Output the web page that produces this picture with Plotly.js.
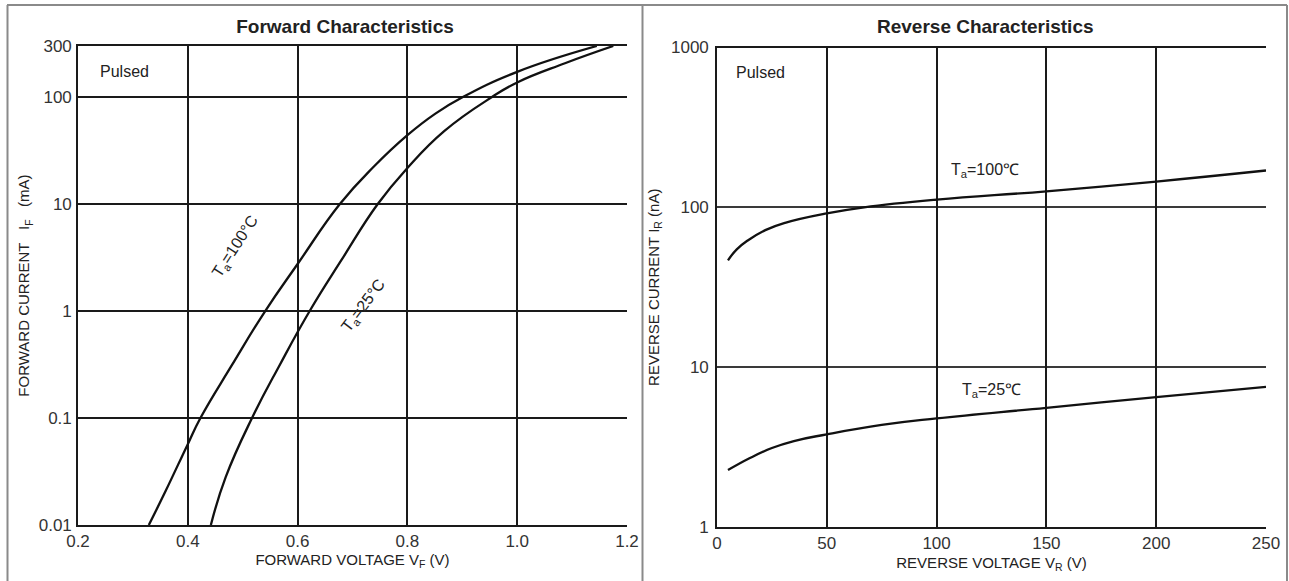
<!DOCTYPE html>
<html>
<head>
<meta charset="utf-8">
<script src="https://cdn.plot.ly/plotly-3.0.1.min.js"></script>
<style>html,body{margin:0;padding:0;background:#fff;}#chart{width:1289px;height:581px;}</style>
</head>
<body>
<div id="chart"></div>
<script>
// ---- Forward characteristics (V in volts, I in mA) ----
const fwdV25  = [0.442, 0.469, 0.517, 0.567, 0.622, 0.680, 0.746, 0.800, 0.867, 0.954, 1.000, 1.087, 1.175];
const fwdI25  = [0.01,  0.028, 0.1,   0.31,  1.0,   3.0,   10,    21.7,  48,    100,   137,   207,   300];
const fwdV100 = [0.329, 0.360, 0.400, 0.423, 0.480, 0.541, 0.600, 0.677, 0.739, 0.800, 0.851, 0.901, 1.000, 1.145];
const fwdI100 = [0.01,  0.021, 0.057, 0.1,   0.31,  1.0,   2.75,  10,    22.4,  44,    70,    100,   172,   300];

// ---- Reverse characteristics (V in volts, I in nA) ----
const revV100 = [5,    9,    14,  22,  31,  50,   67,  100,   150, 200, 250];
const revI100 = [46.6, 54.6, 62,  72,  80,  91.7, 100, 111.7, 126, 145, 170];
const revV25  = [5,    15,  25,   35,   50,  75,   100,  150,  200, 250];
const revI25  = [2.27, 2.7, 3.12, 3.45, 3.8, 4.35, 4.78, 5.57, 6.5, 7.53];

// ---- Tick labels ----
const fwdXTicks = [0.2, 0.4, 0.6, 0.8, 1.0, 1.2];
const fwdXText  = ['0.2', '0.4', '0.6', '0.8', '1.0', '1.2'];
const fwdXGrid  = [0.4, 0.6, 0.8, 1.0];
const fwdYTicks = [0.01, 0.1, 1, 10, 100, 300];
const fwdYText  = ['0.01', '0.1', '1', '10', '100', '300'];
const revXTicks = [0, 50, 100, 150, 200, 250];
const revXText  = ['0', '50', '100', '150', '200', '250'];
const revXGrid  = [50, 100, 150, 200];
const revYTicks = [1, 10, 100, 1000];
const revYText  = ['1', '10', '100', '1000'];

const W = 1289, H = 581;
const px = v => v / W;
const py = v => 1 - v / H;
const FONT = 'Liberation Sans, Arial, sans-serif';
const DARK = '#1a1a1a';
const curve = {color: '#111', width: 2.3, shape: 'spline', smoothing: 1.3};

const traces = [
  {x: fwdV100, y: fwdI100, xaxis: 'x', yaxis: 'y', mode: 'lines', line: curve, name: 'Ta=100°C'},
  {x: fwdV25,  y: fwdI25,  xaxis: 'x', yaxis: 'y', mode: 'lines', line: curve, name: 'Ta=25°C'},
  {x: revV100, y: revI100, xaxis: 'x2', yaxis: 'y2', mode: 'lines', line: curve, name: 'Ta=100℃'},
  {x: revV25,  y: revI25,  xaxis: 'x2', yaxis: 'y2', mode: 'lines', line: curve, name: 'Ta=25℃'},
  {x: [], y: [], xaxis: 'x3', yaxis: 'y', mode: 'lines', hoverinfo: 'skip', showlegend: false},
  {x: [], y: [], xaxis: 'x4', yaxis: 'y2', mode: 'lines', hoverinfo: 'skip', showlegend: false}
];

const tickFont = {family: FONT, size: 17, color: '#333'};
const titleFont = {family: FONT, size: 15, color: '#222'};
const baseX = {tickmode: 'array', showgrid: false, showline: true, linecolor: DARK, linewidth: 1.6,
  ticks: '', zeroline: false, tickfont: tickFont, fixedrange: true, ticklabelstandoff: 0, automargin: false};
const gridX = {tickmode: 'array', showgrid: true, gridcolor: DARK, gridwidth: 1.6,
  showline: true, linecolor: DARK, linewidth: 1.6, side: 'top',
  showticklabels: false, ticks: '', zeroline: false, fixedrange: true};
const baseY = {type: 'log', tickmode: 'array', showgrid: true, gridcolor: DARK, gridwidth: 1.6,
  showline: true, linecolor: DARK, linewidth: 1.6, ticks: '', zeroline: false, tickfont: tickFont,
  fixedrange: true, automargin: false};

function ann(text, x, y, size, opts) {
  return Object.assign({text: text, xref: 'paper', yref: 'paper', x: px(x), y: py(y),
    xanchor: 'center', yanchor: 'middle', showarrow: false,
    font: {family: FONT, size: size, color: '#222'}}, opts || {});
}

const annotations = [
  ann('<b>Reverse Characteristics</b>', 985, 27, 19),
  ann('Pulsed', 124, 71, 16),
  ann('Pulsed', 760, 73, 16),
  ann('T<sub>a</sub>=100°C', 236, 247, 16, {textangle: -57}),
  ann('T<sub>a</sub>=25°C', 363, 306, 16, {textangle: -53}),
  ann('T<sub>a</sub>=100℃', 985, 170, 16),
  ann('T<sub>a</sub>=25℃', 991, 390, 16)
];

const frame = {color: '#8a8a8a', width: 2};
const shapes = [
  {type: 'line', xref: 'paper', yref: 'paper', x0: px(7), x1: px(1287), y0: py(5), y1: py(5), line: frame},
  {type: 'line', xref: 'paper', yref: 'paper', x0: px(7.5), x1: px(7.5), y0: py(5), y1: 0, line: frame},
  {type: 'line', xref: 'paper', yref: 'paper', x0: px(642.5), x1: px(642.5), y0: py(5), y1: 0, line: frame},
  {type: 'line', xref: 'paper', yref: 'paper', x0: px(1287), x1: px(1287), y0: py(5), y1: 0, line: frame}
];

const layout = {
  width: W, height: H,
  margin: {l: 0, r: 0, t: 0, b: 0},
  font: {family: FONT, size: 15, color: '#222'},
  paper_bgcolor: '#fff', plot_bgcolor: '#fff',
  showlegend: false,
  hovermode: false,
  title: {text: '<b>Forward Characteristics</b>', font: {family: FONT, size: 19, color: '#222'},
    xref: 'paper', yref: 'paper', x: px(345), y: py(26), xanchor: 'center', yanchor: 'middle'},
  xaxis: Object.assign({}, baseX, {domain: [px(78), px(627)], anchor: 'y', range: [0.2, 1.2],
    tickvals: fwdXTicks, ticktext: fwdXText,
    title: {text: 'FORWARD VOLTAGE V<sub>F</sub> (V)', font: titleFont, standoff: 3}}),
  xaxis3: Object.assign({}, gridX, {overlaying: 'x', anchor: 'y', range: [0.2, 1.2], tickvals: fwdXGrid}),
  yaxis: Object.assign({}, baseY, {domain: [py(525), py(46)], anchor: 'x', range: [-2, Math.log10(300)],
    tickvals: fwdYTicks, ticktext: fwdYText, ticklabelstandoff: 1,
    title: {text: 'FORWARD CURRENT\u00a0\u00a0 I<sub>F</sub>\u00a0\u00a0 (mA)', font: titleFont, standoff: 5}}),
  xaxis2: Object.assign({}, baseX, {domain: [px(717), px(1266)], anchor: 'y2', range: [0, 250],
    tickvals: revXTicks, ticktext: revXText,
    title: {text: 'REVERSE VOLTAGE V<sub>R</sub> (V)', font: titleFont, standoff: 5}}),
  xaxis4: Object.assign({}, gridX, {overlaying: 'x2', anchor: 'y2', range: [0, 250], tickvals: revXGrid}),
  yaxis2: Object.assign({}, baseY, {domain: [py(527), py(47.5)], anchor: 'x2', range: [0, 3],
    tickvals: revYTicks, ticktext: revYText, gridcolor: '#3a3a3a', gridwidth: 1.8, ticklabelstandoff: 3,
    title: {text: 'REVERSE CURRENT I<sub>R</sub> (nA)', font: titleFont, standoff: 8}}),
  annotations: annotations,
  shapes: shapes
};

Plotly.newPlot('chart', traces, layout, {displayModeBar: false});
</script>
</body>
</html>
